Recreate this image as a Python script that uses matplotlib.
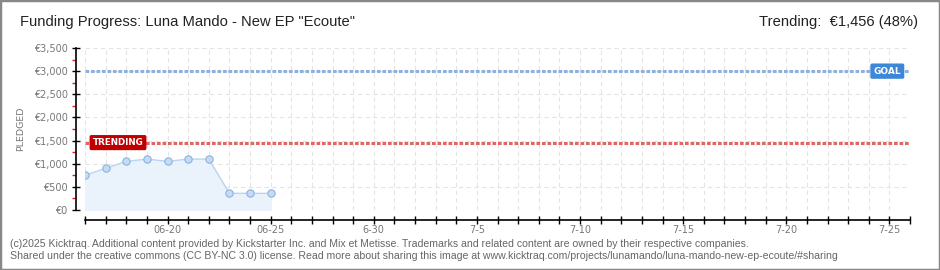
import numpy as np
import matplotlib.pyplot as plt
from matplotlib.patches import Rectangle

# funding data (days since 06-16 on the x axis)
days = [0, 1, 2, 3, 4, 5, 6, 7, 8, 9]
pledged = [750, 900, 1050, 1100, 1050, 1100, 1100, 360, 360, 360]
goal = 3000
trending = 1456
n_days = 40

tick_days = [4, 9, 14, 19, 24, 29, 34, 39]
tick_labels = ['06-20', '06-25', '6-30', '7-5', '7-10', '7-15', '7-20', '7-25']

title = 'Funding Progress: Luna Mando - New EP "Ecoute"'
trend_text = 'Trending:  €1,456 (48%)'
footer = ['(c)2025 Kicktraq. Additional content provided by Kickstarter Inc. and Mix et Metisse. '
          'Trademarks and related content are owned by their respective companies.',
          'Shared under the creative commons (CC BY-NC 3.0) license. Read more about sharing this image at '
          'www.kicktraq.com/projects/lunamando/luna-mando-new-ep-ecoute/#sharing']

narrow = ['Liberation Sans', 'DejaVu Sans']
grey = '#777777'

fig = plt.figure(figsize=(9.4, 2.7), dpi=100)
fig.patches.append(Rectangle((0, 0), 1, 1, transform=fig.transFigure, fill=False,
                             edgecolor='#888888', linewidth=2.5))

ax = fig.add_axes([85 / 940, 1 - 210 / 270, 825 / 940, 162 / 270])
ax.set_xlim(0, n_days)
ax.set_ylim(0, 3500)

# grid
for d in range(n_days + 1):
    ax.axvline(d, color='#e4e4e4', lw=0.8, ls=(0, (4, 3)), zorder=0)
for v in np.arange(0, 3501, 500):
    ax.axhline(v, color='#e4e4e4', lw=0.8, ls=(0, (4, 3)), zorder=0)

# data
ax.fill_between(days, pledged, 0, color='#eaf2fc', zorder=1)
ax.plot(days, pledged, color='#b9d5f2', lw=1, zorder=2)
ax.scatter(days, pledged, s=28, facecolor='#c2dcf7', edgecolor='#8fb2d9', lw=0.8, zorder=3)

# goal / trending lines
ax.axhline(goal, color='#8fb0db', lw=2.2, ls=(0, (1.2, 0.6)), zorder=2)
ax.axhline(trending, color='#e06666', lw=2.2, ls=(0, (1.2, 0.6)), zorder=2)
ax.text(38.9, goal, 'GOAL', fontsize=6.5, color='white', fontweight='bold',
        ha='center', va='center', zorder=5,
        bbox=dict(boxstyle='round,pad=0.35,rounding_size=0.2', fc='#3d87d8', ec='none'))
ax.text(1.6, trending, 'TRENDING', fontsize=6.3, color='white', fontweight='bold',
        ha='center', va='center', zorder=5,
        bbox=dict(boxstyle='round,pad=0.35,rounding_size=0.2', fc='#c00000', ec='none'))

# axes styling
for s in ['top', 'right']:
    ax.spines[s].set_visible(False)
ax.spines['left'].set_position(('outward', 6.5))
ax.spines['bottom'].set_position(('outward', 7.5))
ax.spines['left'].set_linewidth(1.2)
ax.spines['bottom'].set_linewidth(1.2)

ax.set_xticks(range(n_days + 1), minor=True)
ax.set_xticks(tick_days)
ax.set_xticklabels(tick_labels)
ax.tick_params(axis='x', which='both', direction='inout', length=6, width=1, color='black',
               labelsize=7, labelcolor=grey, pad=0.5)

yt = np.arange(0, 3501, 500)
ax.set_yticks(yt)
ax.set_yticklabels(['€{:,}'.format(v) for v in yt])
ax.set_yticks(np.arange(250, 3500, 500), minor=True)
ax.tick_params(axis='y', which='major', direction='inout', length=6, width=1, color='black',
               labelsize=7, labelcolor=grey, pad=3)
ax.tick_params(axis='y', which='minor', direction='out', length=3, width=1, color='#e02020')
ax.set_ylabel('PLEDGED', fontsize=6.8, color=grey)
ax.yaxis.set_label_coords(-0.072, 0.5)

# texts
fig.text(20 / 940, 1 - 22 / 270, title, fontsize=10.6, family=narrow, va='center', color='#222222')
fig.text(918 / 940, 1 - 22 / 270, trend_text, fontsize=10.6, family=narrow, va='center',
         ha='right', color='#222222')
fig.text(10 / 940, 1 - 244 / 270, footer[0], fontsize=7.6, family=narrow, va='center', color='#666666')
fig.text(10 / 940, 1 - 256 / 270, footer[1], fontsize=7.6, family=narrow, va='center', color='#666666')

fig.savefig('out.png', dpi=100)
